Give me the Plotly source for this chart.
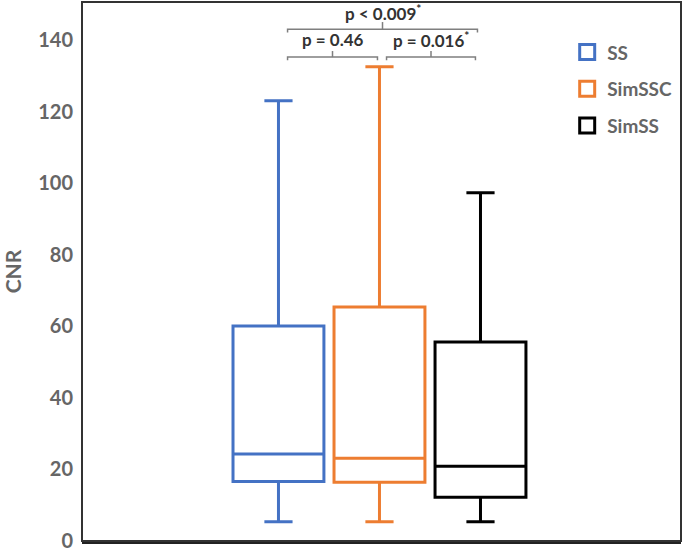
import plotly.graph_objects as go

categories = ["SS", "SimSSC", "SimSS"]
colors = ["#4472C4", "#ED7D31", "#000000"]
lower = [5.4, 5.4, 5.4]
q1 = [16.6, 16.4, 12.2]
median = [24.3, 23.1, 20.9]
q3 = [60.1, 65.4, 55.6]
upper = [123.0, 132.5, 97.3]

yticks = [0, 20, 40, 60, 80, 100, 120, 140]
p_labels = ["p = 0.46", "p = 0.016<sup>*</sup>", "p < 0.009<sup>*</sup>"]

FONT = "Lato"
fig = go.Figure()
for i, c in enumerate(categories):
    fig.add_trace(go.Box(
        x=[c], q1=[q1[i]], median=[median[i]], q3=[q3[i]],
        lowerfence=[lower[i]], upperfence=[upper[i]],
        width=0.9, whiskerwidth=0.31,
        line=dict(color=colors[i], width=3), fillcolor="white",
        showlegend=False, boxpoints=False, hoverinfo="skip",
    ))
for i, c in enumerate(categories):
    fig.add_trace(go.Scatter(
        x=[None], y=[None], mode="markers", name=c, legendgroup=c,
        marker=dict(symbol="square-open", size=15, color=colors[i],
                    line=dict(width=3, color=colors[i])),
    ))

# significance brackets (layout decoration)
def bracket(x0, x1, y, drop, rise, color="#7f7f7f"):
    xm = (x0 + x1) / 2
    fig.add_shape(type="path", xref="x", yref="y",
                  path=f"M {x0} {y-drop} L {x0} {y} L {x1} {y} L {x1} {y-drop}",
                  line=dict(color=color, width=1.5))
    fig.add_shape(type="line", xref="x", yref="y", x0=xm, x1=xm, y0=y, y1=y + rise,
                  line=dict(color=color, width=1.5))
    return xm

xm1 = bracket(0.09, 0.98, 135.2, 0.9, 1.7)
xm2 = bracket(1.07, 1.95, 135.2, 0.9, 1.7)
xm3 = bracket(0.09, 1.97, 143.0, 0.9, 2.0)
for xm, yy, t in [(xm1, 140.0, p_labels[0]), (xm2, 140.0, p_labels[1]), (xm3, 147.8, p_labels[2])]:
    fig.add_annotation(x=xm, y=yy, xref="x", yref="y", text=t, showarrow=False,
                       font=dict(family=FONT, size=17, color="#333333", weight="bold"))

# frame
fig.add_shape(type="rect", xref="paper", yref="paper", x0=0, x1=1, y0=0, y1=1,
              line=dict(color="#333333", width=2))

fig.update_layout(
    width=685, height=548,
    margin=dict(l=82, r=4, t=2, b=7, autoexpand=False),
    paper_bgcolor="white", plot_bgcolor="white",
    boxmode="overlay",
    xaxis=dict(type="category", range=[-1.945, 3.985], showticklabels=False,
               ticks="", showgrid=False, zeroline=False, automargin=False,
               showline=True, linecolor="#222222", linewidth=3),
    yaxis=dict(range=[0, 150.6], tickvals=yticks, ticks="", showgrid=False,
               zeroline=False, showline=False, ticklabelstandoff=8,
               ticklabeloverflow="allow", automargin=False,
               tickfont=dict(family=FONT, size=20, color="#666666", weight="bold"),
               title=dict(text="CNR", standoff=14,
                          font=dict(family=FONT, size=21, color="#666666", weight="bold"))),
    legend=dict(x=0.81, y=0.942, xanchor="left", yanchor="top",
                font=dict(family=FONT, size=19, color="#666666", weight="bold"),
                tracegroupgap=9, traceorder="grouped", bgcolor="rgba(0,0,0,0)"),
    showlegend=True,
)

fig.write_html("out.html", config={"displayModeBar": False},
               post_script="document.body.style.margin='0';")
